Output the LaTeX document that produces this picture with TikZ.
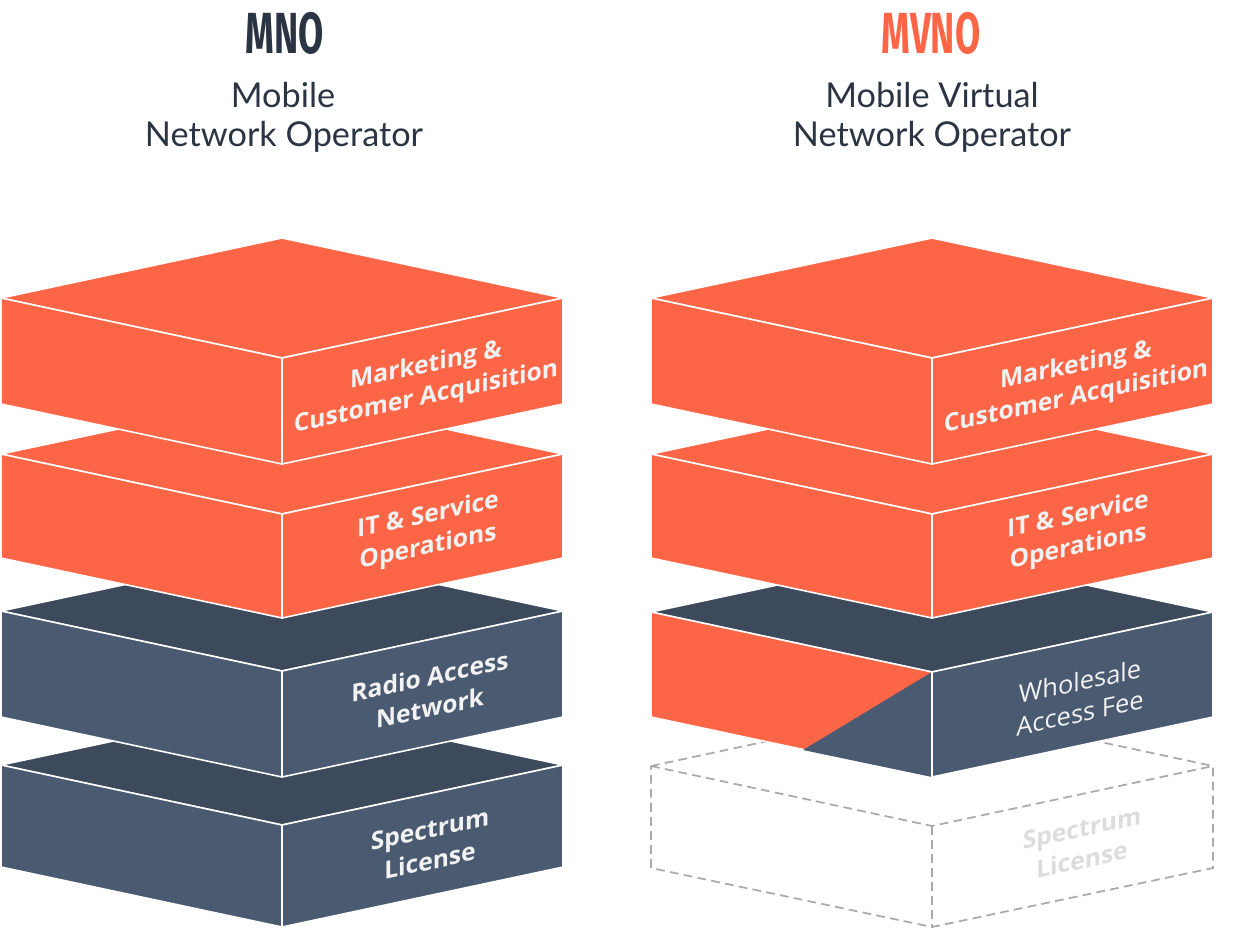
\documentclass[tikz,border=0pt]{standalone}
\usepackage{fontspec}
\setmainfont{Open Sans}
\newfontfamily\titlefont[FakeStretch=0.63]{Fira Sans}
\newfontfamily\subfont{Lato}
\usepackage{tikz}
\definecolor{mvnoorange}{HTML}{FC6647}
\definecolor{slateside}{HTML}{4A5A70}
\definecolor{slatetop}{HTML}{3D4A5C}
\definecolor{titledark}{HTML}{2B3443}
\definecolor{ghostline}{HTML}{AAAAAA}
\definecolor{ghosttext}{HTML}{DCDCDC}
\definecolor{labelwhite}{HTML}{F2F2F2}
\newcommand{\slab}[6]{%
  \fill[#4,rim] (#1-281,#2-60) -- (#1,#2-120) -- (#1+281,#2-60) -- (#1,#2) -- cycle;
  \fill[#5,rim] (#1-281,#2-60) -- (#1,#2) -- (#1,#2+#3) -- (#1-281,#2+#3-60) -- cycle;
  \fill[#6,rim] (#1,#2) -- (#1+281,#2-60) -- (#1+281,#2+#3-60) -- (#1,#2+#3) -- cycle;}

\begin{document}
\begin{tikzpicture}[x=0.02cm,y=-0.02cm,
  rim/.style={draw=white,line width=0.9pt,line join=round},
  title/.style={font={\titlefont\bfseries\fontsize{33}{33}\selectfont},anchor=base},
  sub/.style={font={\subfont\fontsize{19.5}{22}\selectfont},text=titledark,anchor=base},
  lbl/.style={font={\bfseries\fontsize{14}{18}\selectfont},text=labelwhite,align=center,yslant=0.214},
  ghost/.style={draw=ghostline,line width=1pt,dash pattern=on 5pt off 3pt}]
\useasboundingbox (0,0) rectangle (1233,930);
\node[title,text=titledark] (mno) at (285,53) {MNO};
\node[sub] (mnoa) at (283,107) {Mobile};
\node[sub] (mnob) at (284,146) {Network Operator};
\node[title,text=mvnoorange] (mvno) at (931,53) {MVNO};
\node[sub] (mvnoa) at (932,107) {Mobile Virtual};
\node[sub] (mvnob) at (932,146) {Network Operator};
\slab{282}{825}{102}{slatetop}{slateside}{slateside}
\slab{282}{671}{106}{slatetop}{slateside}{slateside}
\slab{282}{514}{104}{mvnoorange}{mvnoorange}{mvnoorange}
\slab{282}{358}{106}{mvnoorange}{mvnoorange}{mvnoorange}
\node[lbl] (spec) at (430,845) {Spectrum\\License};
\node[lbl] (ran) at (430,692) {Radio Access\\Network};
\node[lbl] (its) at (428,532) {IT \& Service\\Operations};
\node[lbl] (mkt) at (426,382) {Marketing \&\\Customer Acquisition};
\draw[ghost] (651,766) -- (932,706) -- (1213,766) -- (1213,868) -- (932,927) -- (651,868) -- cycle;
\draw[ghost] (651,766) -- (932,826) -- (1213,766);
\draw[ghost] (932,826) -- (932,927);
\node[lbl,text=ghosttext] (ghost) at (1082,844) {Spectrum\\License};
\slab{932}{672}{105}{slatetop}{mvnoorange}{slateside}
\fill[slateside] (932,672) -- (803,750) -- (932,777) -- cycle;
\draw[rim] (932,672) -- (932,777);
\slab{932}{514}{104}{mvnoorange}{mvnoorange}{mvnoorange}
\slab{932}{358}{106}{mvnoorange}{mvnoorange}{mvnoorange}
\node[lbl,font={\fontsize{14.5}{18}\selectfont}] (fee) at (1080,697) {Wholesale\\Access Fee};
\node[lbl] (its2) at (1078,532) {IT \& Service\\Operations};
\node[lbl] (mkt2) at (1076,382) {Marketing \&\\Customer Acquisition};
\end{tikzpicture}
\end{document}
